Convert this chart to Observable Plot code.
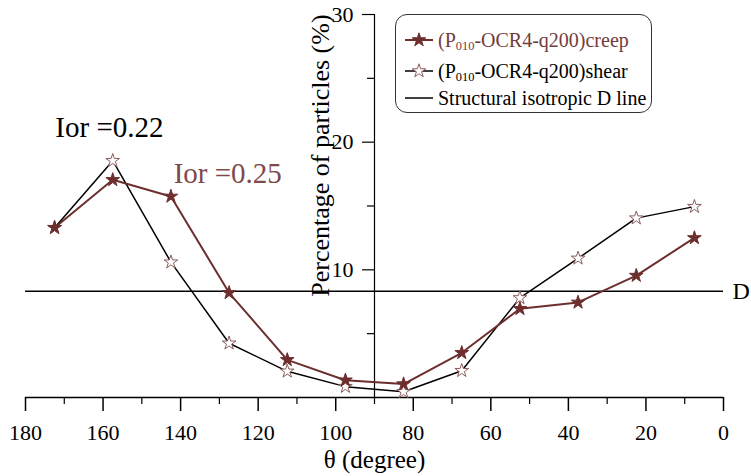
<!DOCTYPE html>
<html>
<head>
<meta charset="utf-8">
<script src="https://cdn.jsdelivr.net/npm/d3@7"></script>
<script src="https://cdn.jsdelivr.net/npm/@observablehq/plot@0.6"></script>
<style>
  body { margin: 0; background: #fff; }
  #wrap { position: relative; width: 751px; height: 476px; font-family: 'Liberation Serif', 'Times New Roman', 'DejaVu Serif', serif; }
  #wrap svg text { font-family: 'Liberation Serif', 'Times New Roman', 'DejaVu Serif', serif; }
  #legend {
    position: absolute; left: 395px; top: 14px; width: 257px; height: 99px;
    border: 1.5px solid #333; border-radius: 12px; background: #fff; box-sizing: border-box;
  }
  .row { position: absolute; left: 0; height: 30px; display: flex; align-items: center; font-size: 20px; white-space: nowrap; }
  .row svg { width: 36px; height: 30px; margin-left: 6px; margin-right: 0; }
  sub { font-size: 0.62em; vertical-align: -0.25em; line-height: 0; }
</style>
</head>
<body>
<div id="wrap"></div>
<script>
// ---- data ----
const theta = [172.5, 157.5, 142.5, 127.5, 112.5, 97.5, 82.5, 67.5, 52.5, 37.5, 22.5, 7.5];
const creep = [13.3, 17.05, 15.75, 8.2, 2.95, 1.35, 1.05, 3.5, 6.95, 7.45, 9.55, 12.5];
const shear = [13.3, 18.55, 10.6, 4.25, 2.05, 0.85, 0.45, 2.1, 7.8, 10.9, 14.05, 14.95];
const dLineValue = 8.33;
const xTicks = [180, 160, 140, 120, 100, 80, 60, 40, 20, 0];
const xMinorTicks = [170, 150, 130, 110, 90, 70, 50, 30, 10];
const yTicks = [10, 20, 30];
const yMinorTicks = [5, 15, 25];
const seriesNames = ["(P010-OCR4-q200)creep", "(P010-OCR4-q200)shear", "Structural isotropic D line"];
const annotLabels = ["Ior =0.22", "Ior =0.25"];
const annotTheta = [172.3, 141.8];
const annotValue = [21.1, 17.5];

const creepColor = "#6d2e2e";
const shearStarColor = "#8b5d5d";
const serif = "Liberation Serif";

const creepData = theta.map((t, i) => ({theta: t, v: creep[i]}));
const shearData = theta.map((t, i) => ({theta: t, v: shear[i]}));
const annots = annotLabels.map((l, i) => ({label: l, theta: annotTheta[i], v: annotValue[i]}));

const chart = Plot.plot({
  width: 751,
  height: 476,
  marginLeft: 25,
  marginRight: 28,
  marginTop: 14,
  marginBottom: 79,
  style: {fontFamily: serif, fontSize: "22px", color: "black", background: "white"},
  x: {domain: [180, 0], axis: null},
  y: {domain: [0, 30], axis: null},
  marks: [
    // x axis
    Plot.ruleY([0], {x1: 180, x2: 0, stroke: "black", strokeWidth: 1.5}),
    Plot.ruleX(xTicks, {x: d => d, y1: 0, y2: 0, insetBottom: -14, stroke: "black", strokeWidth: 1.5}),
    Plot.ruleX(xMinorTicks, {x: d => d, y1: 0, y2: 0, insetBottom: -7, stroke: "black", strokeWidth: 1.2}),
    Plot.text(xTicks, {x: d => d, y: 0, text: d => String(d), dy: 35, fontSize: 22, fontFamily: serif, fill: "black"}),
    Plot.text(["θ (degree)"], {x: 90, y: 0, dy: 62, fontSize: 25, fontFamily: serif, fill: "black"}),
    // y axis at 90
    Plot.ruleX([90], {y1: 0, y2: 30, stroke: "black", strokeWidth: 1.2}),
    Plot.ruleY(yTicks, {y: d => d, x1: 90, x2: 90, insetLeft: -12, stroke: "black", strokeWidth: 1.2}),
    Plot.ruleY(yMinorTicks, {y: d => d, x1: 90, x2: 90, insetLeft: -7, stroke: "black", strokeWidth: 1.2}),
    Plot.text(yTicks, {x: 90, y: d => d, text: d => String(d), dx: -21, textAnchor: "end", fontSize: 22, fontFamily: serif, fill: "black"}),
    Plot.text(["Percentage of particles (%)"], {x: 90, y: 18.95, rotate: -90, dx: -54, fontSize: 26, fontFamily: serif, fill: "black"}),
    // D line
    Plot.ruleY([dLineValue], {x1: 180, x2: 0, stroke: "black", strokeWidth: 1.5}),
    Plot.text(["D"], {x: 0, y: dLineValue, dx: 9, textAnchor: "start", fontSize: 24, fontFamily: serif, fill: "black"}),
    // series
    Plot.line(shearData, {x: "theta", y: "v", stroke: "black", strokeWidth: 1.5}),
    Plot.line(creepData, {x: "theta", y: "v", stroke: creepColor, strokeWidth: 2}),
    Plot.dot(shearData, {x: "theta", y: "v", symbol: "star", r: 4.3, fill: "white", stroke: shearStarColor, strokeWidth: 1}),
    Plot.dot(creepData, {x: "theta", y: "v", symbol: "star", r: 4.3, fill: creepColor, stroke: creepColor, strokeWidth: 1}),
    // annotations
    Plot.text(annots, {x: "theta", y: "v", text: "label", textAnchor: "start", fontSize: 29, fontFamily: serif,
      fill: (d, i) => i === 0 ? "black" : "#7f4a4a"})
  ]
});

const wrap = document.getElementById("wrap");
wrap.appendChild(chart);

// ---- legend ----
const legend = document.createElement("div");
legend.id = "legend";
wrap.appendChild(legend);
const starPath = d3.symbol(d3.symbolStar, Math.PI * 4.3 * 4.3)();
const rowsTop = [10, 41, 68];
const legendSpec = [
  {line: creepColor, lw: 2, star: {fill: creepColor, stroke: creepColor}, color: "#733c3c"},
  {line: "black", lw: 1.5, star: {fill: "white", stroke: shearStarColor}, color: "black"},
  {line: "black", lw: 1.5, star: null, color: "black"}
];
seriesNames.forEach((name, i) => {
  const s = legendSpec[i];
  const row = document.createElement("div");
  row.className = "row";
  row.style.top = rowsTop[i] + "px";
  const ns = "http://www.w3.org/2000/svg";
  const svg = document.createElementNS(ns, "svg");
  const ln = document.createElementNS(ns, "line");
  ln.setAttribute("x1", 3); ln.setAttribute("x2", 31); ln.setAttribute("y1", 15); ln.setAttribute("y2", 15);
  ln.setAttribute("stroke", s.line); ln.setAttribute("stroke-width", s.lw);
  svg.appendChild(ln);
  if (s.star) {
    const p = document.createElementNS(ns, "path");
    p.setAttribute("d", starPath);
    p.setAttribute("transform", "translate(17,15)");
    p.setAttribute("fill", s.star.fill); p.setAttribute("stroke", s.star.stroke);
    svg.appendChild(p);
  }
  row.appendChild(svg);
  const span = document.createElement("span");
  span.style.color = s.color;
  span.innerHTML = name.replace("P010", "P<sub>010</sub>");
  row.appendChild(span);
  legend.appendChild(row);
});
</script>
</body>
</html>
